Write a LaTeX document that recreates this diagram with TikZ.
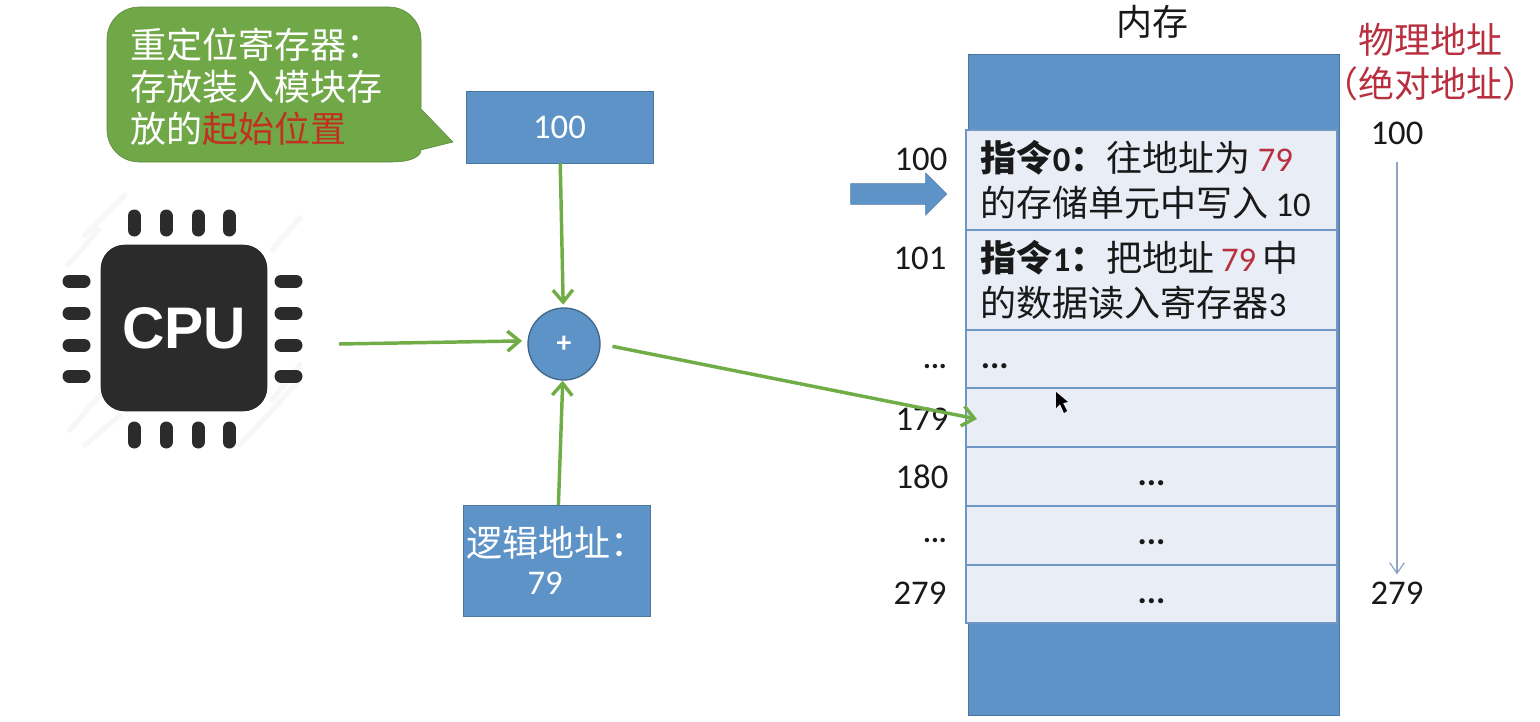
\documentclass[tikz,border=0pt]{standalone}
\usepackage{fontspec}
\setmainfont{Noto Sans CJK SC}
\newfontfamily\lat[Scale=0.963]{Carlito}
\newfontfamily\cpufont{Liberation Sans}
\usetikzlibrary{arrows.meta,shapes.arrows}
\definecolor{boxblue}{HTML}{5E93C7}
\definecolor{cellfill}{HTML}{E8EDF6}
\definecolor{celledge}{HTML}{6F96C4}
\definecolor{flowgreen}{HTML}{70AD47}
\definecolor{notegreen}{HTML}{70A747}
\definecolor{notered}{HTML}{C0321F}
\definecolor{addrred}{HTML}{B8303F}
\definecolor{thinblue}{HTML}{8EA3C2}
\definecolor{chipgray}{HTML}{2B2B2B}
\newcommand{\lowdots}{\raisebox{-7pt}[0pt][0pt]{...}}
\tikzset{
  every node/.style={font=\fontsize{27}{31.5}\selectfont, text=black!90},
  bluebox/.style={draw=boxblue!80!black, fill=boxblue, text=white, inner sep=0pt},
  memcell/.style={draw=celledge, line width=1.2pt, fill=cellfill, inner xsep=11pt, inner ysep=0pt, text width=256pt, minimum height=#1, font=\fontsize{27}{34}\selectfont},
  flow/.style={draw=flowgreen, line width=2.6pt, -{Straight Barb[length=9pt,width=15pt]}},
  chippin/.style={draw=chipgray, line width=9.75pt, line cap=round},
  haze/.style={draw=black!3, line width=4pt, line cap=round},
  numlabel/.style={font=\lat\fontsize{27}{27}\selectfont},
  dotlabel/.style={font=\lat\bfseries\fontsize{23}{23}\selectfont},
  celldots/.style={font=\lat\bfseries\fontsize{27}{27}\selectfont},
}
\begin{document}
\begin{tikzpicture}[x=0.75pt,y=-0.75pt]
\useasboundingbox (0,0) rectangle (1540,721);
% chip
\draw [haze] (68,265) -- (98,230) (85,235) -- (125,195) (70,430) -- (100,395) (85,445) -- (120,415) (272,250) -- (300,218) (272,400) -- (300,365) (240,445) -- (295,385);
\draw [chippin] (134,216) -- (134,230) (166,216) -- (166,230) (198,216) -- (198,230) (229,216) -- (229,230);
\draw [chippin] (134,428) -- (134,442) (166,428) -- (166,442) (198,428) -- (198,442) (229,428) -- (229,442);
\draw [chippin] (69,281) -- (84,281) (69,313) -- (84,313) (69,345) -- (84,345) (69,376) -- (84,376);
\draw [chippin] (281,281) -- (296,281) (281,313) -- (296,313) (281,345) -- (296,345) (281,376) -- (296,376);
\node [fill=chipgray, rounded corners=18pt, minimum width=125pt, minimum height=125pt, inner sep=0pt, text=white, font=\cpufont\bfseries\fontsize{44}{44}\selectfont] (cpu) at (184,328) {CPU};
\coordinate (cpuout) at (339,344);

% note
\draw [draw=notegreen!80!black, fill=notegreen] (250,7) [rounded corners=24pt] -- (421,7) [sharp corners] -- (421,109) -- (453,142) -- (421,150) .. controls (421,157) and (410,162) .. (392,162) [rounded corners=24pt] -- (107,162) -- (107,7) -- cycle;
\node [anchor=west, align=left, text=white, inner sep=0pt] (note) at (130,87) {重定位寄存器：\\存放装入模块存\\放的{\color{notered}起始位置}};

% registers
\node [bluebox, minimum width=140pt, minimum height=54pt, font=\lat\fontsize{27}{31.5}\selectfont] (base) at (559.5,127) {100};
\node [circle, draw=boxblue!70!black, line width=1pt, fill=boxblue, text=white, minimum size=54pt, inner sep=0pt, font=\lat\bfseries\fontsize{23}{23}\selectfont] (adder) at (564,344) {+};
\node [bluebox, minimum width=140pt, minimum height=83pt, align=center] (logic) at (556.5,560.5) {逻辑地址：\\[-2.5pt]{\lat 79}\hspace*{17pt}};

% memory
\node [fill=boxblue, draw=boxblue!80!black, minimum width=278pt, minimum height=496pt, inner sep=0pt] (mem) at (1153.5,385) {};
\node at (1152,22) (memtitle) {内存};
\node [memcell=75pt] (cell0) at (1151.5,180) {{\bfseries 指令{\lat 0}：}往地址为\hspace{5.5pt}{\lat\color{addrred} 79}\\的存储单元中写入\hspace{5pt}{\lat 10}};
\node [memcell=75pt] (cell1) at (1151.5,280) {{\bfseries 指令{\lat 1}：}把地址\hspace{5pt}{\lat\color{addrred} 79}\hspace{4.5pt}中\\的数据读入寄存器{\lat 3}};
\node [memcell=43.5pt, celldots] (cell2) at (1151.5,359) {\lowdots};
\node [memcell=44.25pt] (cell3) at (1151.5,417.5) {};
\node [memcell=44.25pt, align=center, celldots] (cell4) at (1151.5,476.5) {\lowdots};
\node [memcell=44.25pt, align=center, celldots] (cell5) at (1151.5,535.5) {\lowdots};
\node [memcell=43.5pt, align=center, celldots] (cell6) at (1151.5,594) {\lowdots};
\coordinate (target) at (977,419);

% addresses left of the memory
\node [numlabel] (left100) at (921,159) {100};
\node [numlabel] (left101) at (920,258) {101};
\node [dotlabel] (leftdots) at (935,367) {...};
\node [numlabel] (left179) at (922,419) {179};
\node [numlabel] (left180) at (922,477) {180};
\node [dotlabel] (leftdotsb) at (935,541) {...};
\node [numlabel] (left279) at (920,593) {279};
\node [single arrow, fill=boxblue, draw=boxblue!85!black, inner xsep=0pt, inner ysep=7.5pt, minimum height=72pt, single arrow head extend=8pt] (pcarrow) at (893.5,194) {};

% physical addresses
\node [text=addrred] (phytitle) at (1430,40) {物理地址};
\node [text=addrred] (phyabs) at (1430,84) {（绝对地址）};
\node [numlabel] (phy100) at (1397,133) {100};
\node [numlabel] (phy279) at (1397,593) {279};
\draw [draw=thinblue, line width=0.9pt, -{Straight Barb[length=8pt,width=11pt]}, shorten <=10pt, shorten >=2pt] (phy100) -- (phy279);

% cursor
\fill [black] (1056,392) -- (1056,408) -- (1060,404) -- (1064,413) -- (1067,411) -- (1063,403) -- (1068,402) -- cycle;

% connectors
\draw [flow, shorten >=2pt] (base) -- (adder);
\draw [flow, shorten >=4pt] (cpuout) -- (adder.175);
\draw [flow] (logic) -- (adder);
\draw [flow, shorten <=9pt] (adder.east) -- (target);
\end{tikzpicture}
\end{document}
